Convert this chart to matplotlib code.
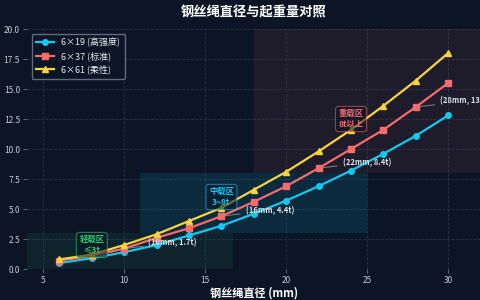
# 钢丝绳直径与起重量对照 - dark theme line chart
import matplotlib
matplotlib.use("Agg")
import matplotlib.pyplot as plt
from matplotlib.patches import Rectangle

plt.rcParams['font.family'] = ['Noto Sans CJK SC', 'DejaVu Sans']

# --- Data ---
diameters = [6, 8, 10, 12, 14, 16, 18, 20, 22, 24, 26, 28, 30]
load_6x19 = [0.5, 0.9, 1.4, 2.0, 2.8, 3.6, 4.6, 5.7, 6.9, 8.2, 9.6, 11.1, 12.8]
load_6x37 = [0.7, 1.1, 1.7, 2.6, 3.4, 4.4, 5.6, 6.9, 8.4, 10.0, 11.6, 13.5, 15.5]
load_6x61 = [0.8, 1.2, 2.0, 2.9, 4.0, 5.1, 6.6, 8.1, 9.8, 11.6, 13.6, 15.7, 18.0]
series_labels = ["6×19 (高强度)", "6×37 (标准)", "6×61 (柔性)"]
annot_diameters = [10, 16, 22, 28]

# zones: (x0, x1, y0, y1), label, label position
zone_spans = [(4, 16.7, 0, 3), (11, 25, 3, 8), (18, 32, 8, 20)]
zone_labels = ["轻载区\n≤3t", "中载区\n3~8t", "重载区\n8t以上"]
zone_label_pos = [(8, 2.0), (16, 6.0), (24, 12.5)]

bg = "#0c1526"
colors = ["#14c8f0", "#f76b6b", "#f5d53f"]
zone_colors = ["#2ecc71", "#14c8f0", "#f76b6b"]
zone_alpha = [0.08, 0.12, 0.08]
markers = ["o", "s", "^"]

fig = plt.figure(figsize=(4.8, 3.0), dpi=100, facecolor=bg)
ax = fig.add_axes([0.05625, 0.1033, 0.945, 0.8])
ax.set_facecolor(bg)

# zone backgrounds
for (x0, x1, y0, y1), c, a in zip(zone_spans, zone_colors, zone_alpha):
    ax.add_patch(Rectangle((x0, y0), x1 - x0, y1 - y0, facecolor=c, alpha=a,
                           edgecolor="none", zorder=0))

for ys, lab, c, m in zip([load_6x19, load_6x37, load_6x61], series_labels, colors, markers):
    ax.plot(diameters, ys, color=c, marker=m, markersize=4, linewidth=1.6,
            label=lab, zorder=3)

# zone labels
for (x, y), txt, c in zip(zone_label_pos, zone_labels, zone_colors):
    ax.text(x, y, txt, color=c, fontsize=6, fontweight="bold", ha="center",
            va="center", linespacing=1.2, zorder=5,
            bbox=dict(boxstyle="round,pad=0.35", facecolor=bg, alpha=0.55,
                      edgecolor=c, linewidth=0.8))

# point annotations on 6x37
for d in annot_diameters:
    v = load_6x37[diameters.index(d)]
    ax.annotate(f"({d}mm, {v}t)", xy=(d, v), xytext=(d + 1.5, v + 0.5),
                color="#dde3ea", fontsize=5.5, fontweight="bold", va="center",
                ha="left", zorder=6,
                arrowprops=dict(arrowstyle="-", color="#8a8f99", lw=0.8, alpha=0.8))

ax.set_xlim(4, 32)
ax.set_ylim(0, 20)
ax.set_xticks([5, 10, 15, 20, 25, 30])
ax.set_yticks([0, 2.5, 5, 7.5, 10, 12.5, 15, 17.5, 20])
ax.yaxis.set_major_formatter(plt.FormatStrFormatter("%.1f"))
ax.tick_params(colors="#6b7585", labelcolor="#c3cad4", labelsize=6, length=3,
               width=0.6, pad=2)
ax.grid(True, linestyle="--", color="#5a6478", alpha=0.35, linewidth=0.6)
for s in ax.spines.values():
    s.set_visible(False)

ax.set_title("钢丝绳直径与起重量对照", color="white", fontsize=9.5,
             fontweight="bold", pad=9)
ax.set_xlabel("钢丝绳直径 (mm)", color="white", fontsize=8, fontweight="bold", labelpad=1)
ax.set_ylabel("额定起重量 (t)", color="white", fontsize=7, fontweight="bold", labelpad=2)

leg = ax.legend(loc="upper left", fontsize=6.5, facecolor=bg, edgecolor="#6b7585",
                framealpha=0.9, borderpad=0.5, handlelength=2.0, labelspacing=0.4)
for t in leg.get_texts():
    t.set_color("#e6ebf0")

fig.savefig("out.png", dpi=100, facecolor=bg)
